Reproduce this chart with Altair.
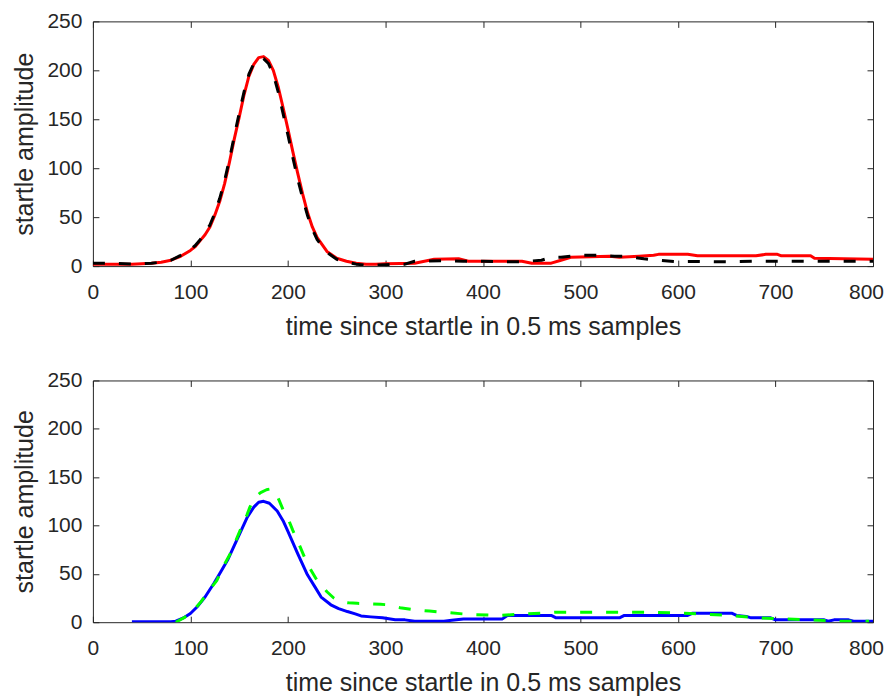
import altair as alt
import pandas as pd

# ---------------- data ----------------
red_x = [0, 20, 40, 60, 70, 80, 90, 100, 105, 110, 115, 120, 125, 130, 135, 140, 145, 150, 155, 160,
         165, 170, 175, 180, 185, 190, 195, 200, 205, 210, 215, 220, 225, 230, 240, 250, 260, 270, 280,
         290, 300, 330, 340, 350, 375, 385, 440, 450, 470, 480, 490, 530, 540, 560, 575, 580, 610, 620,
         680, 690, 702, 706, 736, 740, 800]
red_y = [2, 2, 2, 3, 4, 6, 10, 16, 20, 26, 32, 40, 52, 66, 84, 106, 130, 152, 175, 194,
         206, 213, 214, 210, 200, 183, 162, 140, 117, 95, 74, 55, 40, 29, 15, 8, 5, 3, 2,
         2, 2.5, 3, 5, 7, 7.5, 5, 5, 3, 3, 6, 9, 10, 9, 10, 11, 12, 12, 10.5,
         10.5, 12, 12, 10.5, 10.5, 8, 7]

black_x = [0, 20, 40, 60, 70, 80, 90, 100, 105, 110, 115, 120, 125, 130, 135, 140, 145, 150, 155, 160,
           165, 170, 175, 180, 185, 190, 195, 200, 205, 210, 215, 220, 225, 230, 240, 250, 260, 270, 280,
           290, 300, 320, 330, 360, 380, 400, 420, 440, 460, 470, 480, 500, 520, 535, 545, 565, 580, 600,
           620, 650, 680, 700, 720, 740, 760, 780, 800]
black_y = [3, 3, 2, 3, 4, 6, 11, 17, 21, 27, 34, 42, 54, 69, 87, 109, 133, 156, 178, 196,
           207, 212, 212, 207, 196, 178, 156, 134, 111, 89, 70, 52, 38, 27, 14, 7, 4, 2, 1,
           1, 1.5, 2, 5, 5.5, 5, 5, 4.5, 4.5, 6, 9, 9, 11, 11, 10, 10, 7.5, 6, 4.5,
           4.8, 4.3, 5, 5, 5, 5, 5, 5, 5]

blue_x = [40, 60, 80, 85, 94, 100, 107, 115, 124, 131, 138, 148, 158, 165, 170, 175, 181, 189, 195, 200,
          210, 220, 228, 234, 244, 252, 261, 269, 275, 285, 297, 310, 320, 330, 360, 368, 380, 420, 425,
          470, 475, 540, 545, 610, 615, 655, 660, 670, 675, 695, 700, 750, 754, 760, 775, 780, 800]
blue_y = [0.5, 0.5, 0.5, 1, 5, 9, 16, 26, 40, 52, 64, 86, 108, 119, 124, 125, 123, 115, 105, 94,
          71, 49, 36, 26, 18, 14, 11, 8.6, 6.5, 5.5, 4.5, 2.5, 2.4, 1, 1, 2, 3.4, 3.4, 7,
          7, 4.5, 4.5, 7, 7, 9.3, 9.3, 7, 6, 4.5, 4.5, 2.4, 2.4, 1, 2.4, 2.4, 1, 1]

green_x = [85, 94, 100, 110, 120, 127, 135, 141, 151, 158, 161, 166, 172, 178, 183, 188, 191, 196, 201,
           205, 210, 215, 220, 223, 230, 240, 247, 254, 262, 271, 285, 295, 302, 315, 330, 345, 359, 386,
           415, 446, 475, 506, 534, 563, 594, 623, 652, 680, 709, 738, 767, 796]
green_y = [0, 5, 9, 20, 34, 43, 60, 71, 95, 111, 119, 129, 134, 137, 138, 133, 126, 114, 105,
           95, 84, 72, 60, 55, 43, 31.5, 25, 21, 20, 19.5, 19, 18.5, 18, 15, 12.8, 11.5, 10.3, 8,
           7, 8.6, 10.3, 10.3, 10.3, 10.3, 9.7, 8.6, 7, 4.5, 3.4, 2.4, 1, 1]

x_ticks = [0, 100, 200, 300, 400, 500, 600, 700, 800]
y_ticks = [0, 50, 100, 150, 200, 250]
x_title = "time since startle in 0.5 ms samples"
y_title = "startle amplitude"

# ---------------- style ----------------
W = 781
INK = "#262626"
FONT = "Liberation Sans"

x_scale = alt.Scale(domain=[0, 800], nice=False, zero=False)
y_scale = alt.Scale(domain=[0, 250], nice=False, zero=True)


def series_layer(xs, ys, color, dash, main_axes=False):
    df = pd.DataFrame({"x": xs, "y": ys})
    if main_axes:
        xa = alt.Axis(values=x_ticks, title=x_title, orient="bottom", ticks=False, tickSize=0,
                      domain=False, grid=False, labelPadding=15, titlePadding=12, format="d",
                      labelFlush=False, labelOverlap=False,
                      labelOffset={"condition": {"test": "datum.value == 800", "value": -7},
                                   "value": 0})
        ya = alt.Axis(values=y_ticks, title=y_title, orient="left", ticks=False, tickSize=0,
                      domain=False, grid=False, labelPadding=11, titlePadding=9, format="d",
                      labelFlush=False, labelOverlap=False)
    else:
        xa = None
        ya = None
    props = dict(strokeWidth=3, color=color, clip=True, strokeCap="butt", strokeJoin="round")
    if dash:
        props["strokeDash"] = dash
    return alt.Chart(df).mark_line(**props).encode(
        x=alt.X("x:Q", scale=x_scale, axis=xa),
        y=alt.Y("y:Q", scale=y_scale, axis=ya),
    )


def tick_layer(xs, ys, xorient, yorient, H):
    df = pd.DataFrame({"x": xs, "y": ys})
    xa = alt.Axis(values=x_ticks, orient=xorient, offset=-H, labels=False, domain=False,
                  ticks=True, tickSize=6, tickColor=INK, tickWidth=1, title=None, grid=False)
    ya = alt.Axis(values=y_ticks, orient=yorient, offset=-W, labels=False, domain=False,
                  ticks=True, tickSize=6, tickColor=INK, tickWidth=1, title=None, grid=False)
    return alt.Chart(df).mark_line(opacity=0).encode(
        x=alt.X("x:Q", scale=x_scale, axis=xa),
        y=alt.Y("y:Q", scale=y_scale, axis=ya),
    )


def panel(s1, s2, H):
    (x1, y1, c1, d1), (x2, y2, c2, d2) = s1, s2
    return alt.layer(
        tick_layer(x1, y1, "top", "right", H),
        tick_layer(x1, y1, "bottom", "left", H),
        series_layer(x1, y1, c1, d1, main_axes=True),
        series_layer(x2, y2, c2, d2),
    ).resolve_axis(x="independent", y="independent").properties(width=W, height=H)


top = panel((red_x, red_y, "#ff0000", None), (black_x, black_y, "#000000", [12, 14]), 245)
bottom = panel((blue_x, blue_y, "#0000ff", None), (green_x, green_y, "#00ff00", [12, 14]), 242)

chart = alt.vconcat(top, bottom, spacing=28.5).properties(
    padding={"left": 4, "top": 1, "right": 0, "bottom": 0}
).configure(
    background="white"
).configure_view(
    stroke=INK, strokeWidth=1
).configure_axis(
    labelFont=FONT, labelFontSize=21, labelColor=INK,
    titleFont=FONT, titleFontSize=25, titleColor=INK, titleFontWeight="normal",
)

chart.save("out.html", embed_options={"renderer": "svg", "actions": False})
